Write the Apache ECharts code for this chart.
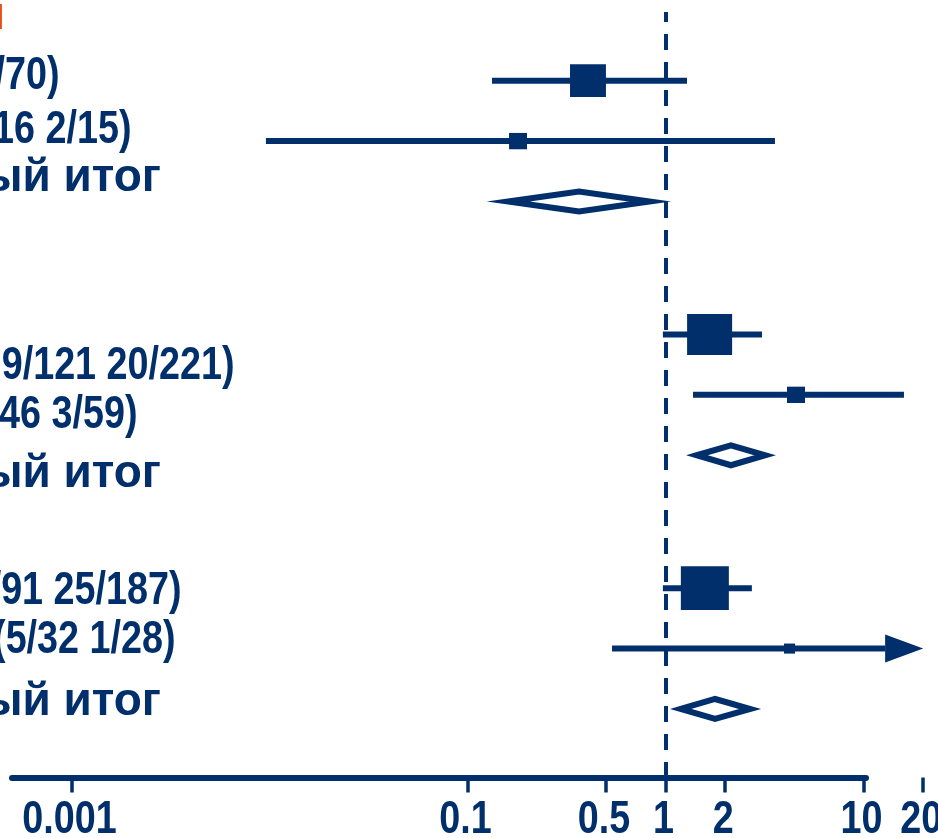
<!DOCTYPE html>
<html>
<head>
<meta charset="utf-8">
<script src="https://cdn.jsdelivr.net/npm/echarts@6/dist/echarts.min.js"></script>
<style>
html,body{margin:0;padding:0;background:#ffffff;}
#chart{width:938px;height:838px;}
</style>
</head>
<body>
<div id="chart"></div>
<script>
// ---------- data ----------
const rowLabels = ['/70)', '16 2/15)', 'Промежуточный итог', '9/121 20/221)', '/46 3/59)', 'Промежуточный итог', '/91 25/187)', '(5/32 1/28)', 'Промежуточный итог'];
const rowIndex  = [0, 1, 2, 4, 5, 6, 8, 9, 10];
const blankRows = [3, 7];
const rowType   = ['study', 'study', 'total', 'study', 'study', 'total', 'study', 'study', 'total'];
const estimate  = [0.406, 0.18, 0.366, 1.67, 4.56, 2.14, 1.58, 4.23, 1.78];
const ciLow     = [0.133, 0.0096, 0.125, 0.97, 1.377, 1.27, 0.97, 0.537, 1.054];
const ciHigh    = [1.284, 3.57, 1.066, 3.07, 16.0, 3.61, 2.73, 20, 3.04];
const boxWeight = [56, 14, 0, 88, 14, 0, 100, 5.3, 0];
const tickValues = [0.001, 0.1, 0.5, 1, 2, 10, 20];
const tickLabels = ['0.001', '0.1', '0.5', '1', '2', '10', '20'];
const titleFragment = 'н';

// ---------- style / layout ----------
const NAVY = '#002F6C';
const ORANGE = '#E94E1B';
const FONT = '"Liberation Sans", Arial, sans-serif';
const FS = 46;
const NARROW = 0.82;            // horizontal squeeze to mimic a narrow bold face (Latin/digits)
const CLIP_MAX = 20;
const BLANK_EXTRA = 0.2;        // extra spacing added by each blank separator row
const Y_MIN = -1.137, Y_MAX = 11.534;
// right edge x and vertical centre of each row label
const labelLayout = [[59.5, 76.5], [131.5, 130], [161, 178], [234.5, 366.5], [137.5, 415], [161, 474], [181.5, 591.5], [175.5, 640], [161, 702]];

const logTicks = tickValues.map(v => Math.log10(v));
function rowPos(idx) {
  return idx + BLANK_EXTRA * blankRows.filter(b => b < idx).length;
}

function boxSize(w) {
  const side = 4.8 * Math.sqrt(w);
  return [side, side * 0.91];
}

function renderRow(params, api) {
  const i = params.dataIndex;
  const row = api.value(3);
  const pLo = api.coord([api.value(0), row]);
  const pEst = api.coord([api.value(1), row]);
  const pHi = api.coord([api.value(2), row]);
  const y = pEst[1];
  const children = [];
  if (rowType[i] === 'total') {
    const lw = 6, H = 10;
    const inner = function (D) {
      let W = D;
      for (let k = 0; k < 20; k++) {
        const m = (lw / 2) * Math.sqrt(H * H + W * W) / H;
        W = D - m;
      }
      return W;
    };
    const WL = inner(pEst[0] - pLo[0]);
    const WR = inner(pHi[0] - pEst[0]);
    children.push({
      type: 'polygon',
      shape: { points: [[pEst[0] - WL, y], [pEst[0], y - H], [pEst[0] + WR, y], [pEst[0], y + H]] },
      style: { fill: '#ffffff', stroke: NAVY, lineWidth: lw, lineJoin: 'miter', miterLimit: 20 }
    });
  } else {
    const arrow = ciHigh[i] >= CLIP_MAX;
    const lineEnd = arrow ? pHi[0] - 38 : pHi[0];
    children.push({
      type: 'line',
      shape: { x1: pLo[0], y1: y, x2: lineEnd, y2: y },
      style: { stroke: NAVY, lineWidth: 6, lineCap: 'butt' }
    });
    if (arrow) {
      children.push({
        type: 'polygon',
        shape: { points: [[pHi[0], y], [pHi[0] - 38, y - 14], [pHi[0] - 38, y + 14]] },
        style: { fill: NAVY }
      });
    }
    const s = boxSize(boxWeight[i]);
    children.push({
      type: 'rect',
      shape: { x: pEst[0] - s[0] / 2, y: y - s[1] / 2, width: s[0], height: s[1] },
      style: { fill: NAVY }
    });
  }
  return { type: 'group', children };
}

function renderTickLabel(params, api) {
  const p = api.coord([api.value(0), Y_MAX]);
  return {
    type: 'text',
    x: p[0] - 2,
    y: p[1] + 43,
    scaleX: NARROW,
    style: {
      text: tickLabels[params.dataIndex],
      align: 'center', verticalAlign: 'middle',
      fill: NAVY, fontSize: FS, fontWeight: 'bold', fontFamily: FONT
    }
  };
}

const seriesData = estimate.map((e, i) => [Math.log10(ciLow[i]), Math.log10(e), Math.log10(ciHigh[i]), rowPos(rowIndex[i])]);
const tickData = logTicks.map(v => [v]);

const graphics = rowLabels.map((t, i) => ({
  type: 'text',
  x: labelLayout[i][0],
  y: labelLayout[i][1],
  scaleX: rowType[i] === 'total' ? 1 : NARROW,
  style: { text: t, align: 'right', verticalAlign: 'middle', fill: NAVY, fontSize: FS, fontWeight: 'bold', fontFamily: FONT }
}));
graphics.push({
  type: 'text', x: 4.5, y: 16, scaleX: NARROW,
  style: { text: titleFragment, align: 'right', verticalAlign: 'middle', fill: ORANGE, fontSize: FS, fontWeight: 'bold', fontFamily: FONT }
});

const chart = echarts.init(document.getElementById('chart'), null, { renderer: 'canvas' });
chart.setOption({
  animation: false,
  backgroundColor: '#ffffff',
  grid: [
    { left: 12, right: 0, top: 12, bottom: 60.5, containLabel: false, outerBoundsMode: 'none' },
    { left: 12, right: 72, top: 12, bottom: 60.5, containLabel: false, outerBoundsMode: 'none' }
  ],
  xAxis: [
    {
      type: 'value', gridIndex: 0, min: -3.3, max: 1.376, position: 'bottom',
      axisLine: { show: false, onZero: false },
      splitLine: { show: false },
      axisTick: { show: true, customValues: logTicks, length: 15, lineStyle: { color: NAVY, width: 3.5 } },
      axisLabel: { show: false }
    },
    {
      type: 'value', gridIndex: 1, min: 0, max: 1, position: 'bottom',
      axisLine: { show: true, onZero: false, lineStyle: { color: NAVY, width: 6 } },
      axisTick: { show: false }, axisLabel: { show: false }, splitLine: { show: false }
    }
  ],
  yAxis: [
    { type: 'value', gridIndex: 0, inverse: true, min: Y_MIN, max: Y_MAX, show: false },
    { type: 'value', gridIndex: 1, min: 0, max: 1, show: false }
  ],
  series: [
    {
      type: 'custom',
      xAxisIndex: 0, yAxisIndex: 0,
      clip: false,
      renderItem: renderRow,
      encode: { x: [0, 1, 2], y: 3 },
      data: seriesData,
      markLine: {
        silent: true, symbol: 'none', animation: false,
        label: { show: false },
        lineStyle: { color: NAVY, width: 4, type: [16, 12], dashOffset: 6 },
        data: [{ xAxis: 0 }]
      }
    },
    {
      type: 'custom',
      xAxisIndex: 0, yAxisIndex: 0,
      clip: false,
      renderItem: renderTickLabel,
      encode: { x: 0 },
      data: tickData
    }
  ],
  graphic: graphics
});
</script>
</body>
</html>
